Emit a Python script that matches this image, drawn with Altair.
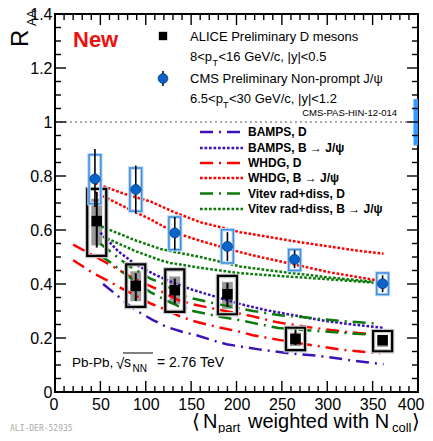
import altair as alt
import pandas as pd

FONT = "Liberation Sans, Arial, DejaVu Sans, sans-serif"

# ---------------- data ----------------
# ALICE D mesons
alice_N = [46, 89, 132, 190, 265, 361]
alice_R = [0.633, 0.393, 0.377, 0.362, 0.196, 0.192]
alice_stat_lo = [0.535, 0.337, 0.328, 0.315, 0.174, 0.183]
alice_stat_hi = [0.740, 0.440, 0.420, 0.404, 0.231, 0.200]
alice_sys_lo = [0.504, 0.315, 0.297, 0.288, 0.155, 0.151]
alice_sys_hi = [0.752, 0.473, 0.454, 0.430, 0.238, 0.226]
alice_gray_lo = [0.543, 0.336, 0.325, 0.308, 0.170, 0.167]
alice_gray_hi = [0.716, 0.447, 0.428, 0.408, 0.220, 0.210]

# CMS non-prompt J/psi
cms_N = [44, 89, 132, 190, 264, 361]
cms_R = [0.789, 0.750, 0.589, 0.539, 0.491, 0.401]
cms_stat_lo = [0.685, 0.661, 0.527, 0.485, 0.459, 0.370]
cms_stat_hi = [0.900, 0.839, 0.648, 0.592, 0.525, 0.432]
cms_sys_lo = [0.697, 0.669, 0.527, 0.478, 0.450, 0.361]
cms_sys_hi = [0.879, 0.830, 0.648, 0.601, 0.528, 0.441]

# CMS global uncertainty
glob_N = [395, 400]
glob_R = [0.913, 1.085]

# model curves
bamps_d_N = [53, 64, 79, 92, 108, 123, 140, 156, 173, 189, 207, 226, 259, 293, 329, 362]
bamps_d_R = [0.400, 0.370, 0.328, 0.297, 0.266, 0.241, 0.223, 0.210, 0.192, 0.177, 0.167, 0.157, 0.143, 0.133, 0.116, 0.103]

bamps_b_N = [50, 70, 90, 110, 130, 152, 178, 205, 233, 265, 300, 330, 362]
bamps_b_R = [0.590, 0.520, 0.470, 0.435, 0.405, 0.378, 0.352, 0.325, 0.303, 0.283, 0.262, 0.249, 0.238]

whdg_d_up_N = [20, 42, 57, 74, 88, 110, 136, 152, 180, 204, 218, 245, 280, 315, 347, 358]
whdg_d_up_R = [0.546, 0.506, 0.478, 0.445, 0.418, 0.385, 0.340, 0.325, 0.305, 0.290, 0.280, 0.258, 0.240, 0.225, 0.214, 0.210]
whdg_d_lo_N = [20, 27, 42, 57, 74, 88, 105, 119, 136, 152, 180, 204, 218, 245, 280, 315, 358]
whdg_d_lo_R = [0.488, 0.473, 0.440, 0.414, 0.383, 0.358, 0.328, 0.309, 0.283, 0.263, 0.240, 0.223, 0.210, 0.194, 0.175, 0.157, 0.143]

vitev_d_up_N = [50, 62, 80, 105, 119, 140, 152, 180, 204, 218, 246, 280, 315, 352]
vitev_d_up_R = [0.549, 0.518, 0.470, 0.420, 0.401, 0.358, 0.346, 0.325, 0.309, 0.300, 0.285, 0.275, 0.263, 0.254]
vitev_d_lo_N = [50, 62, 80, 105, 119, 136, 152, 180, 204, 218, 246, 280, 315, 352]
vitev_d_lo_R = [0.506, 0.478, 0.430, 0.370, 0.345, 0.318, 0.300, 0.280, 0.266, 0.256, 0.237, 0.228, 0.220, 0.211]

whdg_b_up_N = [44, 80, 105, 132, 160, 204, 226, 260, 300, 330, 362]
whdg_b_up_R = [0.773, 0.730, 0.706, 0.665, 0.629, 0.592, 0.580, 0.560, 0.540, 0.525, 0.512]
whdg_b_lo_N = [44, 80, 105, 132, 160, 204, 226, 260, 300, 330, 354]
whdg_b_lo_R = [0.740, 0.680, 0.640, 0.590, 0.560, 0.518, 0.500, 0.475, 0.445, 0.428, 0.414]

vitev_b_up_N = [51, 90, 116, 127, 160, 204, 237, 300, 351]
vitev_b_up_R = [0.613, 0.560, 0.530, 0.522, 0.500, 0.465, 0.450, 0.425, 0.408]
vitev_b_lo_N = [53, 90, 116, 127, 160, 204, 237, 300, 351]
vitev_b_lo_R = [0.575, 0.520, 0.488, 0.478, 0.460, 0.440, 0.432, 0.418, 0.405]

models = ["BAMPS, D", "BAMPS, B \u2192 J/\u03c8", "WHDG, D", "WHDG, B \u2192 J/\u03c8",
          "Vitev rad+diss, D", "Vitev rad+diss, B \u2192 J/\u03c8"]
model_colors = ["#3d13b5", "#3d13b5", "#ff0000", "#ff0000", "#0b7a0b", "#0b7a0b"]
DASHDOT = [13, 6, 2, 6]
DOT = [2.7, 1.8]
model_dashes = [DASHDOT, DOT, DASHDOT, DOT, DASHDOT, DOT]

curves = [
    (models[0], "bd", bamps_d_N, bamps_d_R),
    (models[1], "bb", bamps_b_N, bamps_b_R),
    (models[2], "wdu", whdg_d_up_N, whdg_d_up_R),
    (models[2], "wdl", whdg_d_lo_N, whdg_d_lo_R),
    (models[3], "wbu", whdg_b_up_N, whdg_b_up_R),
    (models[3], "wbl", whdg_b_lo_N, whdg_b_lo_R),
    (models[4], "vdu", vitev_d_up_N, vitev_d_up_R),
    (models[4], "vdl", vitev_d_lo_N, vitev_d_lo_R),
    (models[5], "vbu", vitev_b_up_N, vitev_b_up_R),
    (models[5], "vbl", vitev_b_lo_N, vitev_b_lo_R),
]

X_LABELS = [0, 50, 100, 150, 200, 250, 300, 350, 400]
X_MINOR = [10, 20, 30, 40, 60, 70, 80, 90, 110, 120, 130, 140, 160, 170, 180, 190,
           210, 220, 230, 240, 260, 270, 280, 290, 310, 320, 330, 340, 360, 370, 380, 390]
Y_LABELS = [0, 0.2, 0.4, 0.6, 0.8, 1, 1.2, 1.4]
Y_MINOR = [0.05, 0.1, 0.15, 0.25, 0.3, 0.35, 0.45, 0.5, 0.55, 0.65, 0.7, 0.75,
           0.85, 0.9, 0.95, 1.05, 1.1, 1.15, 1.25, 1.3, 1.35]

# ---------------- tables ----------------
W, H = 363, 378
BOX_HALF = 10.5
GRAY_HALF = 6.0
CMS_HALF = 6.5

alice = pd.DataFrame({"N": alice_N, "R": alice_R, "slo": alice_stat_lo, "shi": alice_stat_hi,
                      "ylo": alice_sys_lo, "yhi": alice_sys_hi, "glo": alice_gray_lo, "ghi": alice_gray_hi})
alice["bl"] = alice["N"] - BOX_HALF
alice["br"] = alice["N"] + BOX_HALF
alice["gl"] = alice["N"] - GRAY_HALF
alice["gr"] = alice["N"] + GRAY_HALF

cms = pd.DataFrame({"N": cms_N, "R": cms_R, "slo": cms_stat_lo, "shi": cms_stat_hi,
                    "ylo": cms_sys_lo, "yhi": cms_sys_hi})
cms["bl"] = cms["N"] - CMS_HALF
cms["br"] = cms["N"] + CMS_HALF

glob = pd.DataFrame({"N": [glob_N[0]], "N2": [glob_N[1]], "R": [glob_R[0]], "R2": [glob_R[1]]})

rows = []
for m, cid, ns, rs in curves:
    for n, r in zip(ns, rs):
        rows.append({"model": m, "curve": cid, "N": n, "R": r})
lines = pd.DataFrame(rows)

xs = alt.Scale(domain=[0, 400], nice=False, zero=False)
ys = alt.Scale(domain=[0, 1.4], nice=False, zero=False)
xaxis = alt.Axis(values=X_LABELS, format="d", title=None, ticks=False, tickSize=0, domain=False,
                 grid=False, labelFontSize=16, labelFont=FONT, labelColor="black",
                 labelPadding=4, labelFlush=True, labelFlushOffset=6, labelOverlap=False)
yaxis = alt.Axis(values=Y_LABELS, format="~g", title=None, ticks=False, tickSize=0, domain=False,
                 grid=False, labelFontSize=16, labelFont=FONT, labelColor="black",
                 labelPadding=3, labelFlush=False, labelOverlap=False)


def X(f):
    return alt.X(f, type="quantitative", scale=xs, axis=xaxis)


def Y(f):
    return alt.Y(f, type="quantitative", scale=ys, axis=yaxis)


one = pd.DataFrame({"a": [0]})


def txt(s, x, y, size, weight="normal", color="black", align="left", baseline="middle",
        angle=0, font=FONT):
    kw = dict(text=s, fontSize=size, fontWeight=weight, color=color, align=align,
              baseline=baseline, font=font)
    if angle:
        kw["angle"] = angle
    return alt.Chart(one).mark_text(**kw).encode(x=alt.value(x), y=alt.value(y))


layers = []

# gray systematic boxes (ALICE)
layers.append(alt.Chart(alice).mark_rect(color="#9a9a9a").encode(
    x=X("gl"), x2="gr", y=Y("glo"), y2="ghi"))

# model curves
layers.append(alt.Chart(lines).mark_line(strokeWidth=2.5, strokeCap="butt").encode(
    x=X("N"), y=Y("R"),
    color=alt.Color("model:N", scale=alt.Scale(domain=models, range=model_colors), legend=None),
    strokeDash=alt.StrokeDash("model:N", scale=alt.Scale(domain=models, range=model_dashes), legend=None),
    detail="curve:N"))

# dotted line at 1
layers.append(alt.Chart(pd.DataFrame({"R": [1.0]})).mark_rule(
    color="#555555", strokeDash=[2, 3], strokeWidth=1).encode(
    y=Y("R"), x=alt.value(0), x2=alt.value(W)))

# ALICE black boxes with halo
layers.append(alt.Chart(alice).mark_rect(fillOpacity=0, stroke="#c8c8c8", strokeWidth=4.5).encode(
    x=X("bl"), x2="br", y=Y("ylo"), y2="yhi"))
layers.append(alt.Chart(alice).mark_rect(fillOpacity=0, stroke="black", strokeWidth=2.2).encode(
    x=X("bl"), x2="br", y=Y("ylo"), y2="yhi"))

# CMS boxes
layers.append(alt.Chart(cms).mark_rect(fillOpacity=0, stroke="#bcd6f0", strokeWidth=3.5).encode(
    x=X("bl"), x2="br", y=Y("ylo"), y2="yhi"))
layers.append(alt.Chart(cms).mark_rect(fillOpacity=0, stroke="#3d8fe0", strokeWidth=1.5).encode(
    x=X("bl"), x2="br", y=Y("ylo"), y2="yhi"))

# global uncertainty
layers.append(alt.Chart(glob).mark_rect(color="#3399ff").encode(
    x=X("N"), x2="N2", y=Y("R"), y2="R2"))

# stat error bars
layers.append(alt.Chart(alice).mark_rule(color="black", strokeWidth=2).encode(
    x=X("N"), y=Y("slo"), y2="shi"))
layers.append(alt.Chart(cms).mark_rule(color="black", strokeWidth=1.6).encode(
    x=X("N"), y=Y("slo"), y2="shi"))

# markers
layers.append(alt.Chart(alice).mark_point(shape="square", filled=True, color="black", size=110, opacity=1).encode(
    x=X("N"), y=Y("R")))
layers.append(alt.Chart(cms).mark_point(shape="circle", filled=True, fill="#0a63c9", stroke="#083c80",
                                        strokeWidth=0.8, size=100, opacity=1).encode(
    x=X("N"), y=Y("R")))

# ticks (inside, all four sides)
xmaj = pd.DataFrame({"N": X_LABELS})
xmin = pd.DataFrame({"N": X_MINOR})
ymaj = pd.DataFrame({"R": Y_LABELS})
ymin = pd.DataFrame({"R": Y_MINOR})
TK = dict(color="black", strokeWidth=1.4)
for df, L in ((xmaj, 11), (xmin, 6)):
    layers.append(alt.Chart(df).mark_rule(**TK).encode(x=X("N"), y=alt.value(H), y2=alt.value(H - L)))
    layers.append(alt.Chart(df).mark_rule(**TK).encode(x=X("N"), y=alt.value(0), y2=alt.value(L)))
for df, L in ((ymaj, 11), (ymin, 6)):
    layers.append(alt.Chart(df).mark_rule(**TK).encode(y=Y("R"), x=alt.value(0), x2=alt.value(L)))
    layers.append(alt.Chart(df).mark_rule(**TK).encode(y=Y("R"), x=alt.value(W), x2=alt.value(W - L)))

# ---------------- texts / legend ----------------
layers.append(txt("New", 18, 26, 22, weight="bold", color="#ee1111"))

# data legend
layers.append(alt.Chart(one).mark_point(shape="square", filled=True, color="black", size=70, opacity=1).encode(
    x=alt.value(108), y=alt.value(22)))
layers.append(txt("ALICE Preliminary D mesons", 135, 23, 13))
layers.append(txt("8<p", 135, 43, 13))
layers.append(txt("T", 157.5, 49, 9))
layers.append(txt("<16 GeV/c, |y|<0.5", 163.5, 43, 13))

layers.append(alt.Chart(one).mark_rule(color="black", strokeWidth=1.5).encode(
    x=alt.value(108), y=alt.value(57), y2=alt.value(72)))
layers.append(alt.Chart(one).mark_point(shape="circle", filled=True, fill="#0a63c9", stroke="#083c80",
                                        strokeWidth=0.8, size=95, opacity=1).encode(
    x=alt.value(108), y=alt.value(64.5)))
layers.append(txt("CMS Preliminary Non-prompt J/\u03c8", 135, 64.7, 13))
layers.append(txt("6.5<p", 135, 85, 13))
layers.append(txt("T", 168, 91, 9))
layers.append(txt("<30 GeV/c, |y|<1.2", 174, 85, 13))
layers.append(txt("CMS-PAS-HIN-12-014", 342, 99, 9.5, align="right"))

# model legend
rows_y = [118, 134, 149, 164, 179.5, 195]
for m, c, d, yy in zip(models, model_colors, model_dashes, rows_y):
    layers.append(alt.Chart(one).mark_rule(color=c, strokeDash=d, strokeWidth=2.5, strokeCap="butt").encode(
        x=alt.value(145), x2=alt.value(188), y=alt.value(yy)))
    layers.append(txt(m, 193, yy, 12, weight="bold"))

# collision system
layers.append(txt("Pb-Pb,", 17, 349, 13.5))
layers.append(txt("\u221a", 61, 350, 15))
layers.append(alt.Chart(one).mark_rule(color="black", strokeWidth=1).encode(
    x=alt.value(68), x2=alt.value(98), y=alt.value(339)))
layers.append(txt("s", 69, 349, 14))
layers.append(txt("NN", 77.5, 355, 10))
layers.append(txt("= 2.76 TeV", 102, 349, 14))

# axis titles
layers.append(txt("R", -27, 33, 24, baseline="alphabetic", angle=270))
layers.append(txt("AA", -19, 12, 12, baseline="alphabetic", angle=270))

layers.append(txt("\u27e8", 137, 414, 20, baseline="alphabetic"))
layers.append(txt("N", 148, 414, 20, baseline="alphabetic"))
layers.append(txt("part", 163, 418, 13, baseline="alphabetic"))
layers.append(txt("weighted with N", 193, 414, 20, baseline="alphabetic"))
layers.append(txt("coll", 337, 418, 13, baseline="alphabetic"))
layers.append(txt("\u27e9", 357, 414, 20, baseline="alphabetic"))

layers.append(txt("ALI-DER-52935", -45, 417, 8, color="#aaaaaa", baseline="alphabetic",
                  font="DejaVu Sans Mono"))

chart = alt.layer(*layers).properties(
    width=W, height=H,
    padding={"left": 47, "top": 6, "right": 7, "bottom": 41},
    autosize=alt.AutoSizeParams(type="none"),
).configure_view(stroke="black", strokeWidth=2)

chart.save("out.html", embed_options={"renderer": "svg", "actions": False})
